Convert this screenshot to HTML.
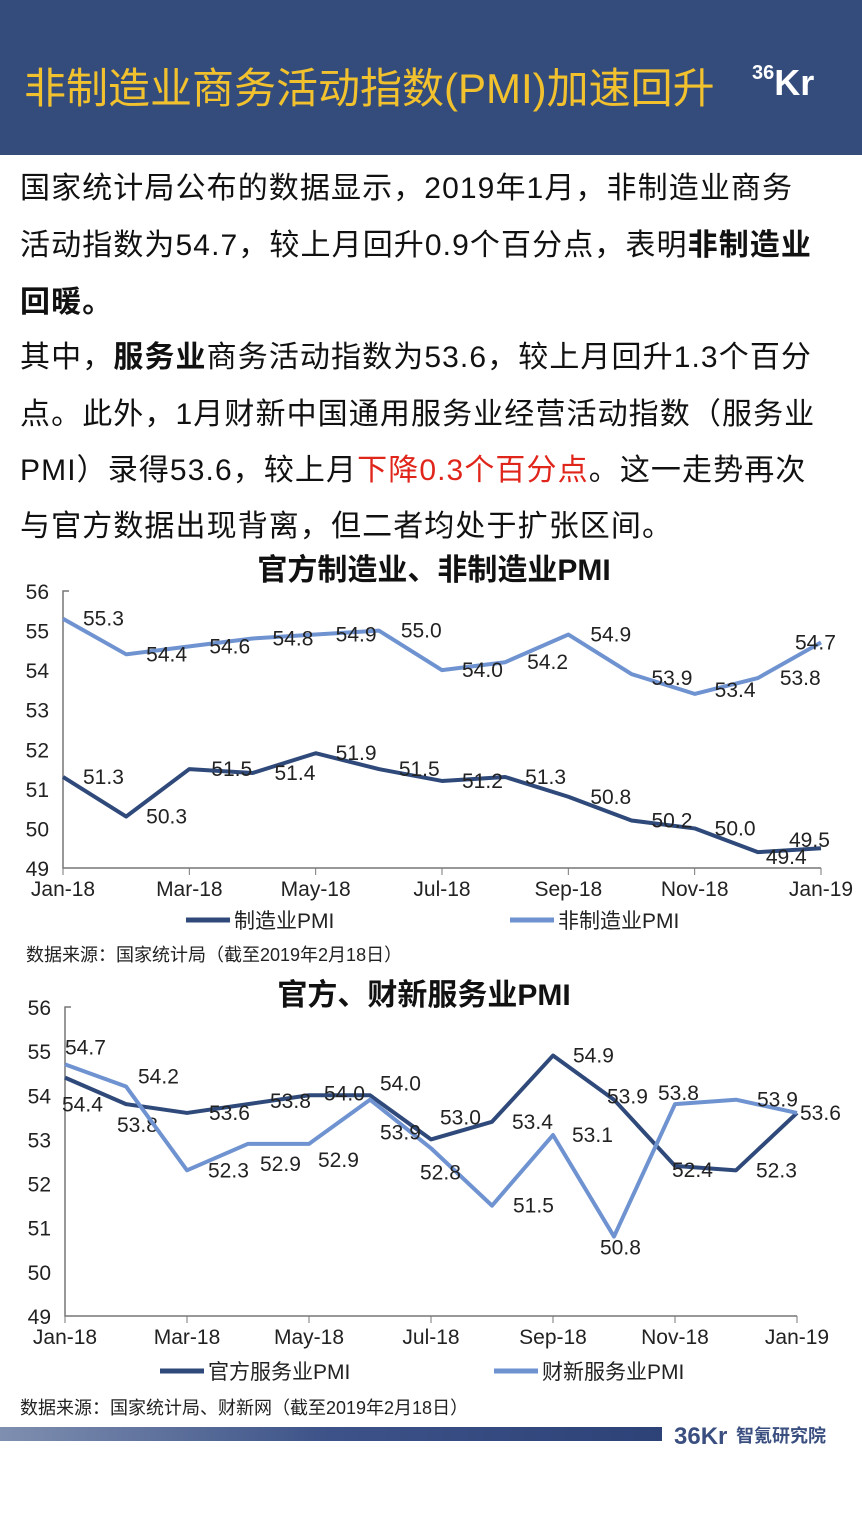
<!DOCTYPE html>
<html><head><meta charset="utf-8"><style>
body{margin:0;width:862px;height:1533px;background:#fff;position:relative;overflow:hidden;font-family:"Liberation Sans","Noto Sans CJK SC",sans-serif;}
#hdr{position:absolute;left:0;top:0;width:862px;height:155px;background:#344c7c;}
#title{position:absolute;left:24px;top:55px;font-size:42px;color:#f2c12e;white-space:nowrap;letter-spacing:0px;}
#logo{position:absolute;left:752px;top:62px;color:#fff;font-weight:bold;font-size:36px;font-family:"Liberation Sans",sans-serif;}
.ln{position:absolute;left:20px;font-size:30px;white-space:nowrap;color:#111;letter-spacing:1.1px}
b{font-weight:bold}
.red{color:#e0251b}
svg{position:absolute;left:0;top:0}
</style></head><body>
<div id="hdr"></div>
<div id="title">非制造业商务活动指数(PMI)加速回升</div>
<div id="logo"><span style="font-size:20px;vertical-align:top">36</span>Kr</div>
<div class="ln" style="top:163px">国家统计局公布的数据显示，2019年1月，非制造业商务</div>
<div class="ln" style="top:220px">活动指数为54.7，较上月回升0.9个百分点，表明<b>非制造业</b></div>
<div class="ln" style="top:277px"><b>回暖。</b></div>
<div class="ln" style="top:332px">其中，<b>服务业</b>商务活动指数为53.6，较上月回升1.3个百分</div>
<div class="ln" style="top:389px">点。此外，1月财新中国通用服务业经营活动指数（服务业</div>
<div class="ln" style="top:445px">PMI）录得53.6，较上月<span class="red">下降0.3个百分点</span>。这一走势再次</div>
<div class="ln" style="top:501px">与官方数据出现背离，但二者均处于扩张区间。</div>
<svg id="c" width="862" height="1533"></svg>
<script>
const months=['Jan-18','Mar-18','May-18','Jul-18','Sep-18','Nov-18','Jan-19'];
const yTicks=[56,55,54,53,52,51,50,49];
const mfg=[51.3,50.3,51.5,51.4,51.9,51.5,51.2,51.3,50.8,50.2,50.0,49.4,49.5];
const nonMfg=[55.3,54.4,54.6,54.8,54.9,55.0,54.0,54.2,54.9,53.9,53.4,53.8,54.7];
const offSvc=[54.4,53.8,53.6,53.8,54.0,54.0,53.0,53.4,54.9,53.9,52.4,52.3,53.6];
const caixin=[54.7,54.2,52.3,52.9,52.9,53.9,52.8,51.5,53.1,50.8,53.8,53.9,53.6];
const svg=document.getElementById('c');
const NS='http://www.w3.org/2000/svg';
function mk(t,a,txt){const e=document.createElementNS(NS,t);for(const k in a)e.setAttribute(k,a[k]);if(txt!=null)e.textContent=txt;svg.appendChild(e);return e;}
function chart(cfg){
  const X=i=>cfg.x0+i*(cfg.x1-cfg.x0)/12;
  const Y=v=>cfg.y0+(56-v)*(cfg.y1-cfg.y0)/7;
  const t=mk('text',{x:cfg.tx,y:cfg.ty,'font-size':30,'font-weight':'bold','text-anchor':'middle',fill:'#111'},cfg.title);
  
  
  const ax=mk('path',{d:`M${cfg.x0+6} ${cfg.y0}H${cfg.x0}V${cfg.y1}H${cfg.x1}`,stroke:'#777',fill:'none','stroke-width':1.5});
  
  
  yTicks.forEach(v=>{
    const e=mk('text',{x:cfg.x0-14,y:Y(v)+8,'font-size':21,'text-anchor':'end',fill:'#222'},v);
    
    
  });
  months.forEach((m,k)=>{
    mk('line',{x1:X(k*2),x2:X(k*2),y1:cfg.y1,y2:cfg.y1+7,stroke:'#777'});
    const e=mk('text',{x:X(k*2),y:cfg.y1+28,'font-size':21,'text-anchor':'middle',fill:'#222'},m);
    
    
  });
  cfg.series.forEach((s,si)=>{
    const p=mk('polyline',{points:s.d.map((v,i)=>X(i)+','+Y(v)).join(' '),fill:'none',stroke:s.c,'stroke-width':4,'stroke-linejoin':'round'});
    
    
    s.d.forEach((v,i)=>{
      const off=s.off[i];
      if(!off)return;
      const e=mk('text',{x:X(i)+off[0],y:Y(v)+off[1]+7,'font-size':21,fill:'#222'},v.toFixed(1));
      
      
    });
    const lx=cfg.legX[si];
    mk('line',{x1:lx,x2:lx+44,y1:cfg.legY,y2:cfg.legY,stroke:s.c,'stroke-width':5});
    const e=mk('text',{x:lx+48,y:cfg.legY+8,'font-size':21,fill:'#222'},s.label);
    
    
  });
  const src=mk('text',{x:cfg.srcX,y:cfg.srcY,'font-size':18,fill:'#222'},cfg.src);
  
  
}
const R=[20,0];
chart({id:'chart1',title:'官方制造业、非制造业PMI',tx:434,ty:580,x0:63,x1:821,y0:591,y1:868,legY:920,legX:[186,510],srcX:26,srcY:961,src:'数据来源：国家统计局（截至2019年2月18日）',
 series:[{name:'manufacturing-pmi-line',label:'制造业PMI',c:'#2f4a7a',d:mfg,off:[R,R,[22,0],[22,0],R,R,R,R,[22,0],R,R,[8,5],[-32,-8]]},
  {name:'non-manufacturing-pmi-line',label:'非制造业PMI',c:'#6f93d0',d:nonMfg,off:[R,R,R,R,R,[22,0],R,[22,0],[22,0],[20,4],[20,-4],[22,0],[-26,0]]}]});
chart({id:'chart2',title:'官方、财新服务业PMI',tx:424,ty:1005,x0:65,x1:797,y0:1007,y1:1316,legY:1371,legX:[160,494],srcX:20,srcY:1414,src:'数据来源：国家统计局、财新网（截至2019年2月18日）',
 series:[{name:'official-services-pmi-line',label:'官方服务业PMI',c:'#2f4a7a',d:offSvc,off:[[-3,27],[-9,21],[22,0],[22,-3],[15,-2],[10,-12],[9,-22],[20,0],[20,0],[-7,-3],[-3,4],[20,0],[3,0]]},
  {name:'caixin-services-pmi-line',label:'财新服务业PMI',c:'#6f93d0',d:caixin,off:[[0,-17],[12,-10],[21,0],[12,20],[9,16],[10,33],[-11,24],[21,0],[19,0],[-14,11],[-17,-11],[21,0],null]}]});
const defs=document.createElementNS(NS,'defs');defs.innerHTML='<linearGradient id="g"><stop offset="0" stop-color="#7f8fb0"/><stop offset="0.5" stop-color="#3c5288"/><stop offset="1" stop-color="#2d4378"/></linearGradient>';svg.appendChild(defs);
const fb=mk('rect',{x:0,y:1427,width:662,height:14,fill:'url(#g)'});


const fl=mk('text',{x:674,y:1444,'font-size':24,'font-weight':'bold',fill:'#3a4f80'},'36Kr');


const ft=mk('text',{x:736,y:1442,'font-size':18,'font-weight':'bold',fill:'#3a4f80'},'智氪研究院');


</script>
</body></html>
